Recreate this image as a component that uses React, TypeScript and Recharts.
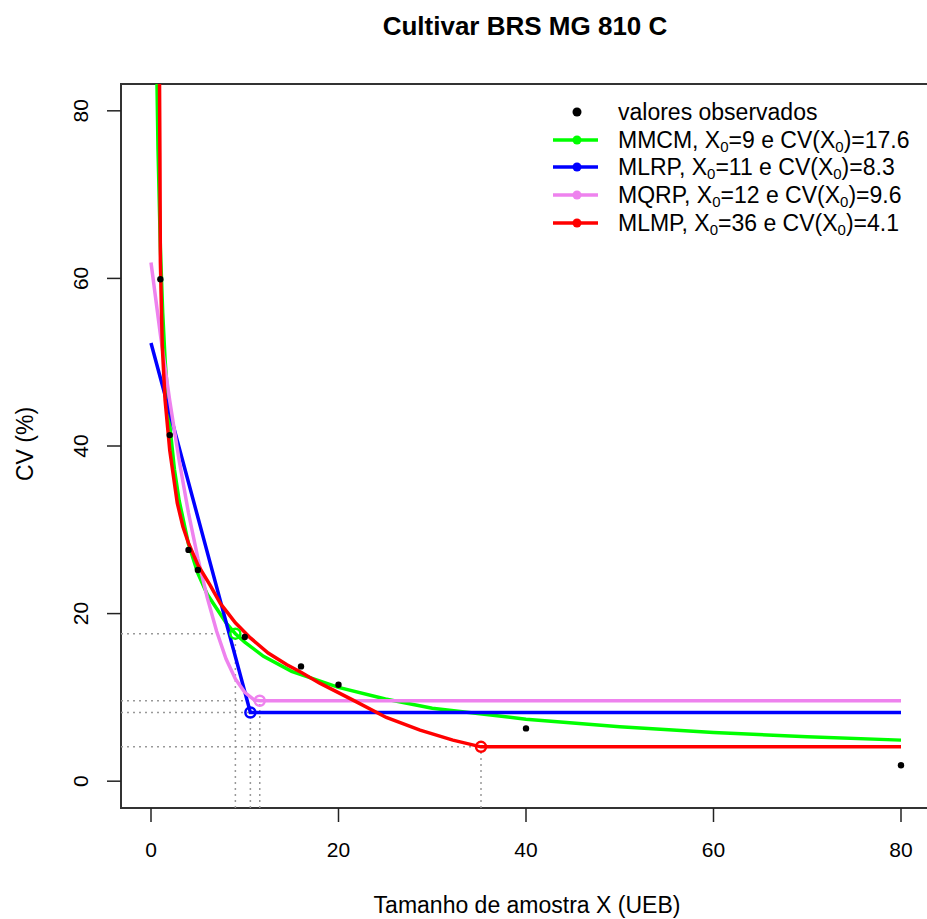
import React from "react"
import {
  ComposedChart,
  Line,
  XAxis,
  YAxis,
  ReferenceLine,
  ReferenceDot,
  ReferenceArea,
} from "recharts"

const FONT = '"Liberation Sans", Arial, Helvetica, sans-serif'

// observed CV values
const obsX = [1, 2, 4, 5, 10, 16, 20, 40, 80]
const obsCV = [59.9, 41.3, 27.6, 25.2, 17.2, 13.7, 11.5, 6.3, 1.9]

// MMCM fitted curve (green)
const mmcmX = [0.4, 0.5, 0.6, 0.75, 1, 1.25, 1.5, 2, 2.5, 3, 4, 5, 6, 8, 9, 10, 12, 15, 20, 25, 30, 40, 50, 60, 70, 80]
const mmcmCV = [108.9, 95.6, 85.9, 75.4, 63.7, 55.9, 50.3, 42.5, 37.2, 33.5, 28.3, 24.8, 22.3, 18.9, 17.6, 16.6, 14.9, 13.1, 11.2, 9.8, 8.7, 7.4, 6.5, 5.8, 5.3, 4.9]

// MLRP (blue)
const mlrpX = [0, 10.6, 80]
const mlrpCV = [52.3, 8.2, 8.2]

// MQRP (violet)
const mqrpX = [0, 1, 2, 3, 4, 5, 6, 7, 8, 9, 10, 11, 11.6, 80]
const mqrpCV = [61.9, 53.3, 45.4, 38.3, 32.0, 26.6, 21.9, 17.9, 14.6, 12.2, 10.6, 9.7, 9.6, 9.6]

// MLMP (red)
const mlmpX = [0.85, 0.95, 1, 1.2, 1.5, 2, 2.8, 3.4, 4, 5, 6.3, 7.4, 8.1, 9, 10.6, 12.5, 14.5, 16, 18, 21.5, 25.1, 28.7, 32.2, 35.2, 80]
const mlmpCV = [95, 75, 62, 52, 45.5, 39.5, 33.2, 30.4, 28.4, 25.8, 23.4, 21.2, 20.2, 18.9, 17.1, 15.3, 13.9, 13.0, 11.7, 9.7, 7.6, 6.1, 4.9, 4.1, 4.1]

// X0 and CV(X0) of each model
const modelNames = ["MMCM", "MLRP", "MQRP", "MLMP"]
const modelColors = ["#00ff00", "#0000ff", "#ee82ee", "#ff0000"]
const x0Vals = [9, 10.6, 11.6, 35.2]
const cv0Vals = [17.6, 8.2, 9.6, 4.1]
const x0Labels = ["9", "11", "12", "36"]
const cv0Labels = ["17.6", "8.3", "9.6", "4.1"]

const xTicks = [0, 20, 40, 60, 80]
const yTicks = [0, 20, 40, 60, 80]
const LO = -3.2
const HI = 83.2

const zip = (xs: number[], ys: number[]) => xs.map((x, i) => ({ x, y: ys[i] }))

const series = [zip(mmcmX, mmcmCV), zip(mlrpX, mlrpCV), zip(mqrpX, mqrpCV), zip(mlmpX, mlmpCV)]
const observed = zip(obsX, obsCV)

const XTick = (p: any) => (
  <text x={p.x} y={822 + 35} textAnchor="middle" fontSize={21} fontFamily={FONT} fill="#000">
    {p.payload.value}
  </text>
)

const YTick = (p: any) => {
  const x = 88
  return (
    <text
      x={x}
      y={p.y}
      transform={`rotate(-90 ${x} ${p.y})`}
      textAnchor="middle"
      fontSize={21}
      fontFamily={FONT}
      fill="#000"
    >
      {p.payload.value}
    </text>
  )
}

function LegendBox() {
  const rows = [112, 140, 167, 195, 223]
  return (
    <svg width={927} height={919} style={{ position: "absolute", left: 0, top: 0, pointerEvents: "none" }}>
      <g fontFamily={FONT} fontSize={23} fill="#000">
        <circle cx={577} cy={rows[0]} r={4.5} fill="#000" />
        <text x={618} y={rows[0] + 8}>valores observados</text>
        {modelNames.map((m, i) => (
          <g key={m}>
            <line x1={553} x2={598} y1={rows[i + 1]} y2={rows[i + 1]} stroke={modelColors[i]} strokeWidth={3.5} />
            <circle cx={577} cy={rows[i + 1]} r={4.5} fill={modelColors[i]} />
            <text x={618} y={rows[i + 1] + 8}>
              {m}, X<tspan dy={4} fontSize={15}>0</tspan>
              <tspan dy={-4}>={x0Labels[i]} e CV(X</tspan>
              <tspan dy={4} fontSize={15}>0</tspan>
              <tspan dy={-4}>)={cv0Labels[i]}</tspan>
            </text>
          </g>
        ))}
      </g>
      <text x={525} y={35} textAnchor="middle" fontFamily={FONT} fontSize={26} fontWeight="bold" fill="#000">
        Cultivar BRS MG 810 C
      </text>
      <text x={527} y={913} textAnchor="middle" fontFamily={FONT} fontSize={23} fill="#000">
        Tamanho de amostra X (UEB)
      </text>
      <text
        x={33}
        y={444}
        transform="rotate(-90 33 444)"
        textAnchor="middle"
        fontFamily={FONT}
        fontSize={23}
        fill="#000"
      >
        CV (%)
      </text>
    </svg>
  )
}

export default function App() {
  return (
    <div
      style={{
        position: "absolute",
        left: 0,
        top: 0,
        width: 927,
        height: 919,
        overflow: "hidden",
        background: "#fff",
      }}
    >
      <ComposedChart width={960} height={919} margin={{ top: 84, left: 61, right: 29, bottom: 51 }}>
        <XAxis
          type="number"
          dataKey="x"
          domain={[LO, HI]}
          ticks={xTicks}
          allowDataOverflow
          height={60}
          axisLine={false}
          tickSize={14}
          tickMargin={0}
          tickLine={{ stroke: "#222", strokeWidth: 1.5 }}
          tick={XTick}
          interval={0}
        />
        <YAxis
          type="number"
          dataKey="y"
          domain={[LO, HI]}
          ticks={yTicks}
          allowDataOverflow
          width={60}
          axisLine={false}
          tickSize={14}
          tickMargin={0}
          tickLine={{ stroke: "#222", strokeWidth: 1.5 }}
          tick={YTick}
          interval={0}
        />
        {x0Vals.map((x0, i) => (
          <ReferenceLine
            key={"h" + i}
            segment={[
              { x: LO, y: cv0Vals[i] },
              { x: x0, y: cv0Vals[i] },
            ]}
            stroke="#999"
            strokeWidth={1.5}
            strokeDasharray="2 4"
            ifOverflow="visible"
          />
        ))}
        {x0Vals.map((x0, i) => (
          <ReferenceLine
            key={"v" + i}
            segment={[
              { x: x0, y: LO },
              { x: x0, y: cv0Vals[i] },
            ]}
            stroke="#999"
            strokeWidth={1.5}
            strokeDasharray="2 4"
            ifOverflow="visible"
          />
        ))}
        <Line
          data={observed}
          dataKey="y"
          stroke="none"
          dot={{ r: 3.2, fill: "#000", stroke: "none" }}
          activeDot={false}
          isAnimationActive={false}
        />
        {series.map((d, i) => (
          <Line
            key={modelNames[i]}
            data={d}
            dataKey="y"
            type="linear"
            stroke={modelColors[i]}
            strokeWidth={3.5}
            dot={false}
            activeDot={false}
            isAnimationActive={false}
          />
        ))}
        {x0Vals.map((x0, i) => (
          <ReferenceDot
            key={"d" + i}
            x={x0}
            y={cv0Vals[i]}
            r={5}
            fill="none"
            stroke={modelColors[i]}
            strokeWidth={2.5}
            ifOverflow="visible"
          />
        ))}
        <ReferenceArea x1={LO} x2={HI} y1={LO} y2={HI} fill="none" stroke="#333" strokeWidth={2} fillOpacity={0} ifOverflow="visible" />
      </ComposedChart>
      <LegendBox />
    </div>
  )
}
